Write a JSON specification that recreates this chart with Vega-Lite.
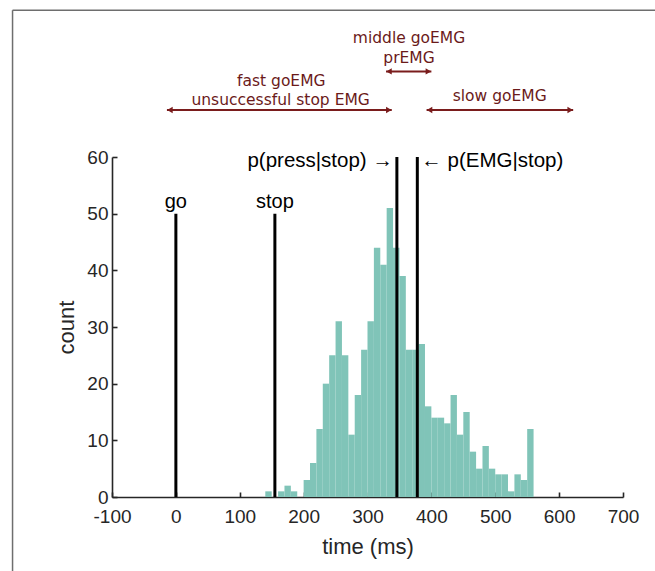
{
  "$schema": "https://vega.github.io/schema/vega-lite/v6.json",
  "width": 511,
  "height": 340,
  "autosize": {"type": "none"},
  "padding": {"left": 112, "top": 157, "right": 32, "bottom": 74},
  "background": "white",
  "config": {"view": {"stroke": null}, "font": "Liberation Sans"},
  "datasets": {
    "hist": [
      {"start": 140, "end": 150, "count": 1},
      {"start": 150, "end": 160, "count": 0},
      {"start": 160, "end": 170, "count": 1},
      {"start": 170, "end": 180, "count": 2},
      {"start": 180, "end": 190, "count": 1},
      {"start": 190, "end": 200, "count": 0},
      {"start": 200, "end": 210, "count": 3},
      {"start": 210, "end": 220, "count": 6},
      {"start": 220, "end": 230, "count": 12},
      {"start": 230, "end": 240, "count": 20},
      {"start": 240, "end": 250, "count": 25},
      {"start": 250, "end": 260, "count": 31},
      {"start": 260, "end": 270, "count": 25},
      {"start": 270, "end": 280, "count": 11},
      {"start": 280, "end": 290, "count": 18},
      {"start": 290, "end": 300, "count": 26},
      {"start": 300, "end": 310, "count": 31},
      {"start": 310, "end": 320, "count": 44},
      {"start": 320, "end": 330, "count": 41},
      {"start": 330, "end": 340, "count": 51},
      {"start": 340, "end": 350, "count": 44},
      {"start": 350, "end": 360, "count": 39},
      {"start": 360, "end": 370, "count": 26},
      {"start": 370, "end": 380, "count": 26},
      {"start": 380, "end": 390, "count": 27},
      {"start": 390, "end": 400, "count": 16},
      {"start": 400, "end": 410, "count": 14},
      {"start": 410, "end": 420, "count": 14},
      {"start": 420, "end": 430, "count": 13},
      {"start": 430, "end": 440, "count": 18},
      {"start": 440, "end": 450, "count": 11},
      {"start": 450, "end": 460, "count": 15},
      {"start": 460, "end": 470, "count": 8},
      {"start": 470, "end": 480, "count": 5},
      {"start": 480, "end": 490, "count": 9},
      {"start": 490, "end": 500, "count": 5},
      {"start": 500, "end": 510, "count": 4},
      {"start": 510, "end": 520, "count": 4},
      {"start": 520, "end": 530, "count": 1},
      {"start": 530, "end": 540, "count": 4},
      {"start": 540, "end": 550, "count": 3},
      {"start": 550, "end": 560, "count": 12}
    ],
    "events": [
      {"event": "go", "t": 0, "top": 50},
      {"event": "stop", "t": 155, "top": 50},
      {"event": "press", "t": 346, "top": 60},
      {"event": "emg", "t": 378, "top": 60}
    ],
    "eventLabels": [
      {"text": "go", "t": 0, "y": 51.0},
      {"text": "stop", "t": 155, "y": 51.0}
    ],
    "pressLabel": [{"text": "p(press|stop) →", "t": 346, "y": 58.2}],
    "emgLabel": [{"text": "← p(EMG|stop)", "t": 378, "y": 58.2}],
    "ranges": [
      {"name": "fast", "start": -14, "end": 338, "level": 68.3},
      {"name": "middle", "start": 329, "end": 400, "level": 75.1},
      {"name": "slow", "start": 392.5, "end": 622, "level": 68.3}
    ],
    "rangeLabels": [
      {"text": "fast goEMG", "t": 165, "y": 72.6},
      {"text": "unsuccessful stop EMG", "t": 164, "y": 69.1},
      {"text": "middle goEMG", "t": 365, "y": 80.2},
      {"text": "prEMG", "t": 365, "y": 76.6},
      {"text": "slow goEMG", "t": 507, "y": 69.8}
    ]
  },
  "layer": [
    {
      "data": {"name": "hist"},
      "mark": {"type": "rect", "color": "#80c4b8", "clip": false},
      "encoding": {
        "x": {
          "field": "start", "type": "quantitative",
          "scale": {"domain": [-100, 700], "nice": false, "zero": false},
          "axis": {
            "title": "time (ms)",
            "values": [-100, 0, 100, 200, 300, 400, 500, 600, 700],
            "labelExpr": "toString(datum.value)",
            "grid": false, "tickSize": -5, "labelPadding": 15,
            "labelFlush": false, "labelOverlap": false,
            "labelFontSize": 19, "titleFontSize": 22, "titleFontWeight": "normal",
            "titlePadding": 10,
            "labelColor": "#262626", "titleColor": "#262626",
            "domainColor": "#262626", "tickColor": "#262626",
            "domainWidth": 1.6, "tickWidth": 1.6
          }
        },
        "x2": {"field": "end"},
        "y": {
          "field": "count", "type": "quantitative",
          "scale": {"domain": [0, 60], "nice": false},
          "axis": {
            "title": "count",
            "values": [0, 10, 20, 30, 40, 50, 60],
            "grid": false, "tickSize": -5, "labelPadding": 9,
            "labelFlush": false, "labelOverlap": false,
            "labelFontSize": 19, "titleFontSize": 22, "titleFontWeight": "normal",
            "titlePadding": 8,
            "labelColor": "#262626", "titleColor": "#262626",
            "domainColor": "#262626", "tickColor": "#262626",
            "domainWidth": 1.6, "tickWidth": 1.6
          }
        },
        "y2": {"datum": 0}
      }
    },
    {
      "data": {"name": "events"},
      "mark": {"type": "rule", "color": "black", "strokeWidth": 3, "clip": false},
      "encoding": {
        "x": {"field": "t", "type": "quantitative"},
        "y": {"field": "top", "type": "quantitative"},
        "y2": {"datum": 0}
      }
    },
    {
      "data": {"name": "eventLabels"},
      "mark": {"type": "text", "align": "center", "baseline": "alphabetic", "fontSize": 20, "color": "black", "clip": false},
      "encoding": {
        "x": {"field": "t", "type": "quantitative"},
        "y": {"field": "y", "type": "quantitative"},
        "text": {"field": "text"}
      }
    },
    {
      "data": {"name": "pressLabel"},
      "mark": {"type": "text", "align": "right", "baseline": "alphabetic", "fontSize": 20.5, "dx": -4, "color": "black", "clip": false},
      "encoding": {
        "x": {"field": "t", "type": "quantitative"},
        "y": {"field": "y", "type": "quantitative"},
        "text": {"field": "text"}
      }
    },
    {
      "data": {"name": "emgLabel"},
      "mark": {"type": "text", "align": "left", "baseline": "alphabetic", "fontSize": 20.5, "dx": 4, "color": "black", "clip": false},
      "encoding": {
        "x": {"field": "t", "type": "quantitative"},
        "y": {"field": "y", "type": "quantitative"},
        "text": {"field": "text"}
      }
    },
    {
      "data": {"name": "ranges"},
      "mark": {"type": "rule", "color": "#7a1c1c", "strokeWidth": 2, "clip": false},
      "encoding": {
        "x": {"field": "start", "type": "quantitative"},
        "x2": {"field": "end"},
        "y": {"field": "level", "type": "quantitative"}
      }
    },
    {
      "data": {"name": "ranges"},
      "mark": {"type": "point", "shape": "triangle-left", "filled": true, "size": 40, "color": "#7a1c1c", "opacity": 1, "clip": false},
      "encoding": {
        "x": {"field": "start", "type": "quantitative"},
        "y": {"field": "level", "type": "quantitative"},
        "xOffset": {"value": 3}
      }
    },
    {
      "data": {"name": "ranges"},
      "mark": {"type": "point", "shape": "triangle-right", "filled": true, "size": 40, "color": "#7a1c1c", "opacity": 1, "clip": false},
      "encoding": {
        "x": {"field": "end", "type": "quantitative"},
        "y": {"field": "level", "type": "quantitative"},
        "xOffset": {"value": -3}
      }
    },
    {
      "data": {"name": "rangeLabels"},
      "mark": {"type": "text", "align": "center", "baseline": "alphabetic", "font": "DejaVu Sans", "fontSize": 15.5, "color": "#6b1a1a", "clip": false},
      "encoding": {
        "x": {"field": "t", "type": "quantitative"},
        "y": {"field": "y", "type": "quantitative"},
        "text": {"field": "text"}
      }
    },
    {
      "data": {"values": [{}]},
      "mark": {"type": "rule", "color": "#6e6e6e", "strokeWidth": 1.5, "clip": false},
      "encoding": {
        "x": {"datum": -255.7, "type": "quantitative"},
        "y": {"datum": 85.9, "type": "quantitative"},
        "y2": {"datum": -15}
      }
    },
    {
      "data": {"values": [{}]},
      "mark": {"type": "rule", "color": "#6e6e6e", "strokeWidth": 1.5, "clip": false},
      "encoding": {
        "x": {"datum": -255.7, "type": "quantitative"},
        "x2": {"datum": 760},
        "y": {"datum": 85.9, "type": "quantitative"}
      }
    }
  ]
}
